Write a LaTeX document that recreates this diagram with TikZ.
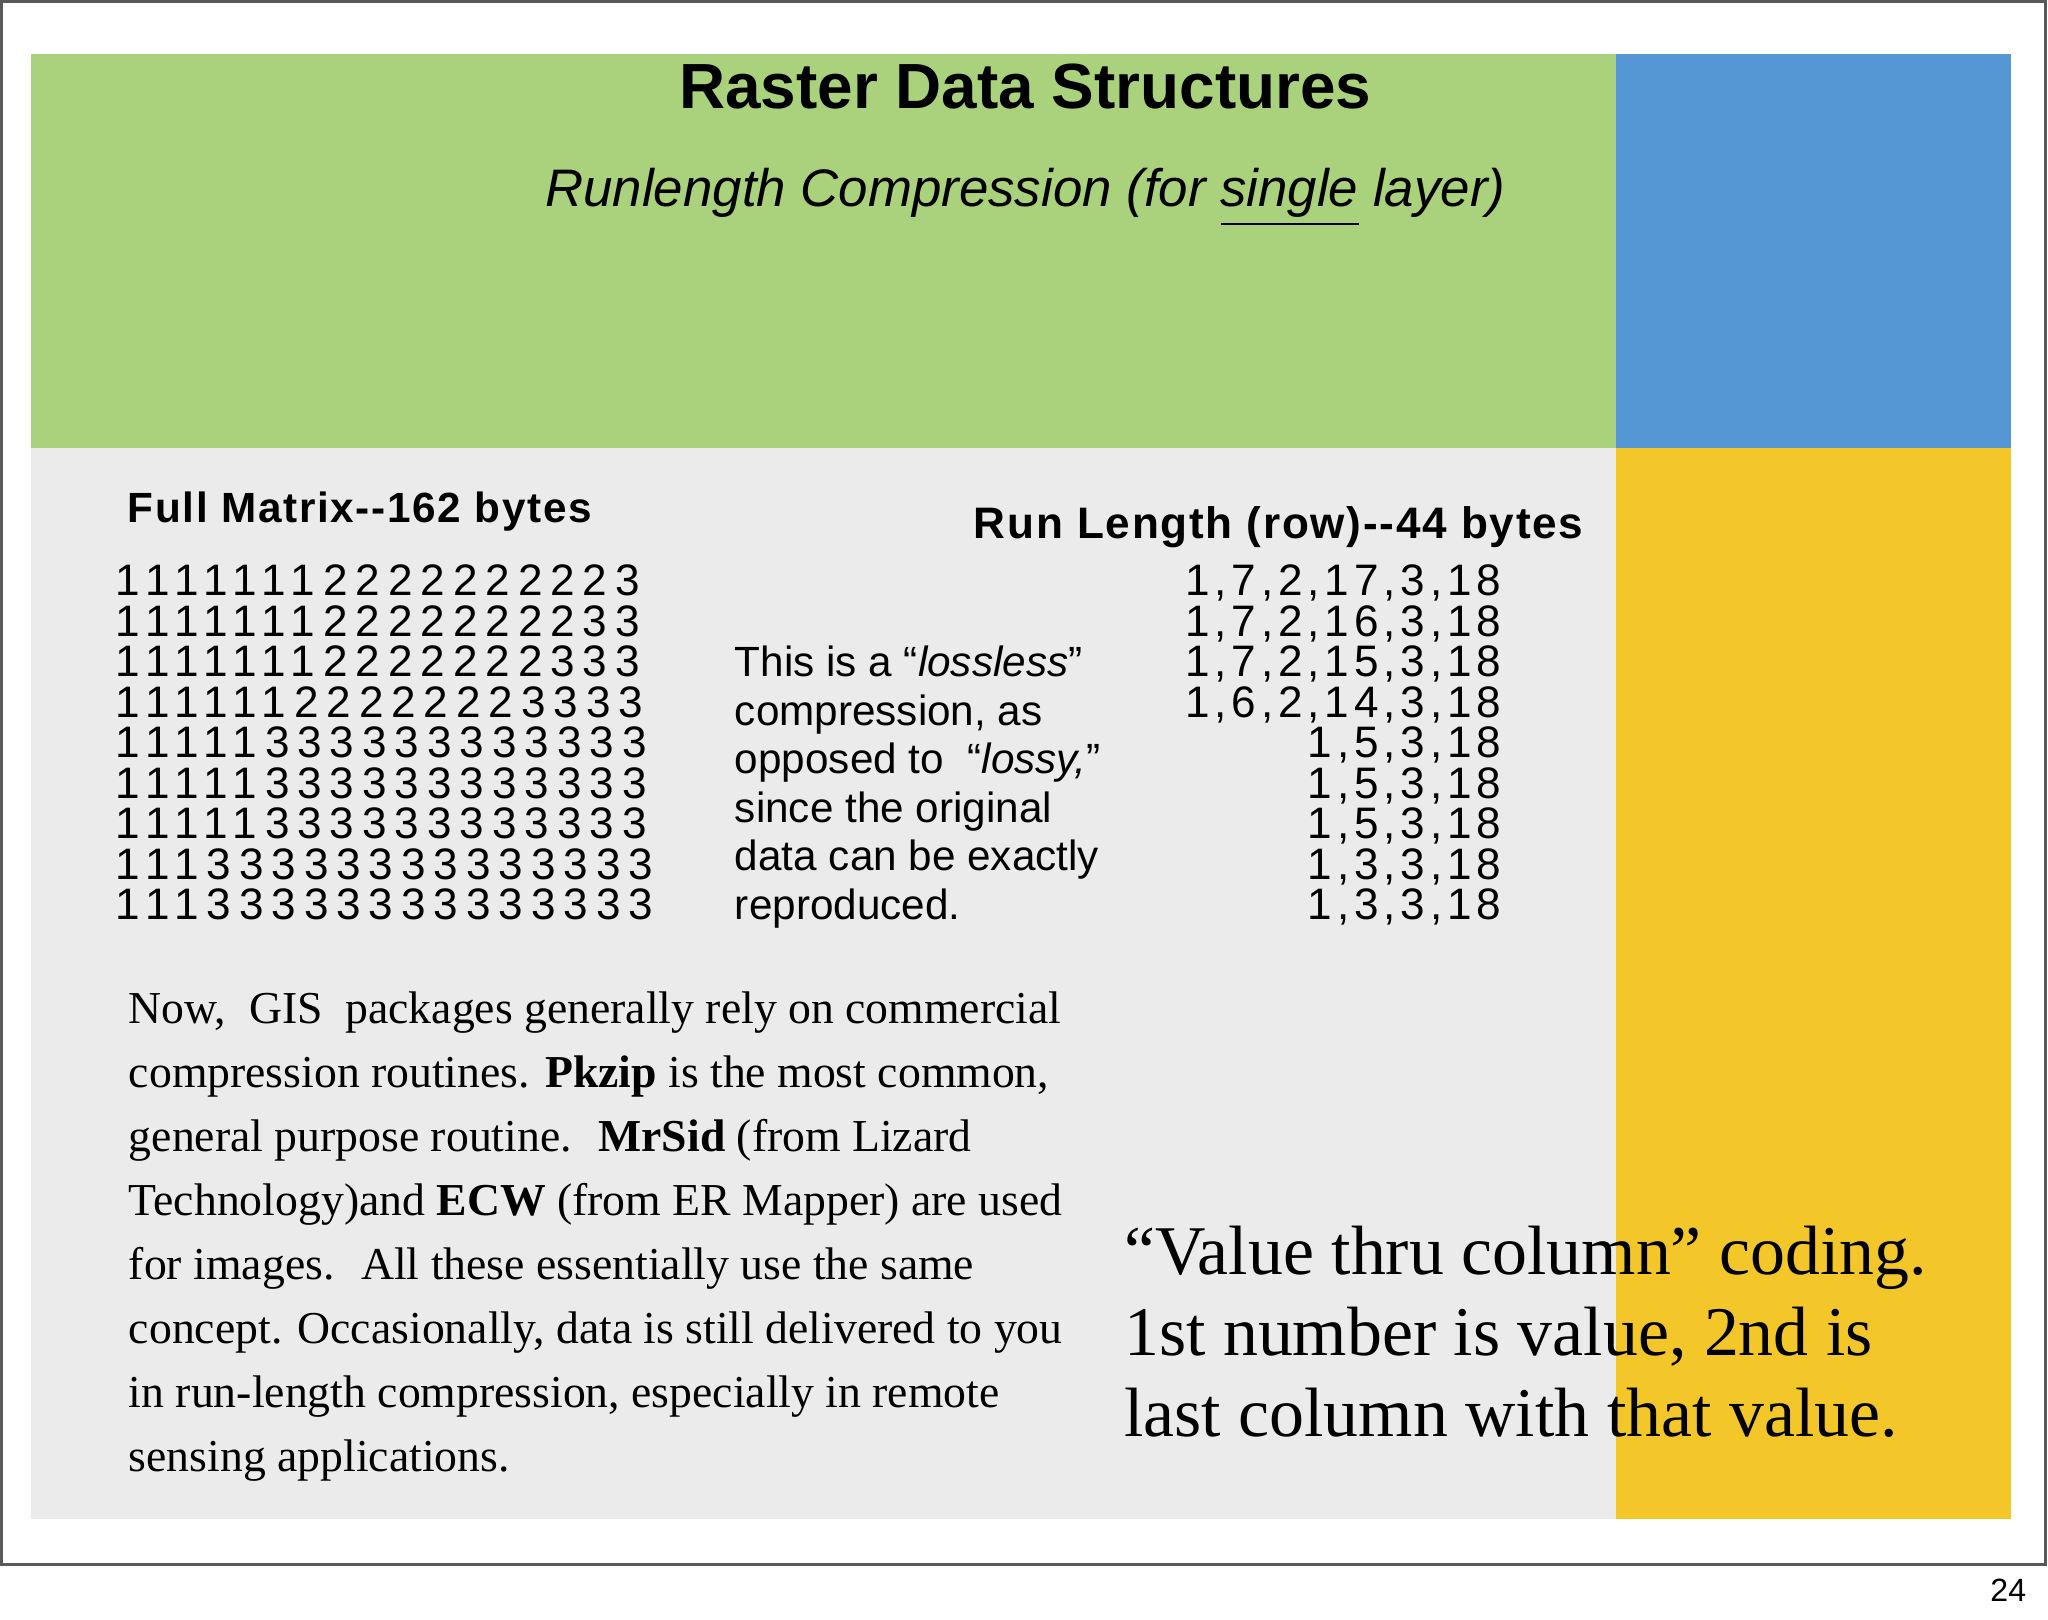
\documentclass[tikz,border=0pt]{standalone}
\usepackage{fontspec}
\setmainfont{Liberation Serif}
\newfontfamily\sans{Liberation Sans}
\newfontfamily\spc[LetterSpace=18]{Liberation Sans}
\newfontfamily\rspc[LetterSpace=11]{Liberation Sans}
\newfontfamily\hspc[LetterSpace=4]{Liberation Sans}
\definecolor{grn}{HTML}{AAD27C}
\definecolor{blu}{HTML}{5597D4}
\definecolor{gry}{HTML}{EBEBEB}
\definecolor{yel}{HTML}{F3C72A}
\begin{document}
\begin{tikzpicture}[x=0.01cm,y=-0.01cm,
  lbl/.style={inner sep=0,anchor=base west},
  mat/.style={inner sep=0,anchor=base west,font=\spc\fontsize{9.6}{11}\selectfont},
  rl/.style={inner sep=0,anchor=base east,font=\rspc\fontsize{9.6}{11}\selectfont}]
\useasboundingbox (0,0) rectangle (1568,1240);
\fill[white] (0,0) rectangle (1568,1240);
\draw[gray!70!black,line width=0.6pt] (1,1) rectangle (1566,1198);
\fill[grn] (24,41) rectangle (1237,343);
\fill[blu] (1237,41) rectangle (1540,343);
\fill[gry] (24,343) rectangle (1237,1163);
\fill[yel] (1237,343) rectangle (1540,1163);
\node[inner sep=0,anchor=base] (title) at (785,83) {\sans\bfseries\fontsize{13.9}{16}\selectfont Raster Data Structures};
\node[inner sep=0,anchor=base] (sub) at (785,158) {\sans\itshape\fontsize{11.5}{14}\selectfont Runlength Compression (for \underline{single} layer)};
\node[lbl] (fm) at (97,400) {\hspc\bfseries\fontsize{9.2}{10}\selectfont Full Matrix-{}-162 bytes};
\node[lbl,anchor=base east] (rh) at (1213,412) {\hspc\bfseries\fontsize{9.6}{10}\selectfont Run Length (row)-{}-44 bytes};
\foreach \s [count=\i from 0] in {11111112222222223,11111112222222233,11111112222222333,11111122222223333,11111333333333333,11111333333333333,11111333333333333,11133333333333333,11133333333333333}
  \node[mat] (m\i) at (88,{456+31*\i}) {\s};
\foreach \s [count=\i from 0] in {{1,7,2,17,3,18},{1,7,2,16,3,18},{1,7,2,15,3,18},{1,6,2,14,3,18},{1,5,3,18},{1,5,3,18},{1,5,3,18},{1,3,3,18},{1,3,3,18}}
  \node[rl] (r\i) at (1150,{456+31*\i}) {\s};
\foreach \s [count=\i from 0] in {{This is a “\textit{lossless}”},{compression, as},{opposed to \ “\textit{lossy,}”},{since the original},{data can be exactly},{reproduced.}}
  \node[lbl,font=\sans\fontsize{9.2}{10}\selectfont] (t\i) at (562,{518+37.2*\i}) {\s};
\foreach \s [count=\i from 0] in {{Now, \ GIS \ packages generally rely on commercial},{compression routines. \textbf{Pkzip} is the most common,},{general purpose routine. \ \textbf{MrSid} (from Lizard},{Technology)and \textbf{ECW} (from ER Mapper) are used},{for images. \ All these essentially use the same},{concept. Occasionally, data is still delivered to you},{in run-length compression, especially in remote},{sensing applications.}}
  \node[lbl,font=\fontsize{9.95}{12}\selectfont] (p\i) at (98,{784+49*\i}) {\s};
\foreach \s [count=\i from 0] in {{“Value thru column” coding.},{1st number is value, 2nd is},{last column with that value.}}
  \node[lbl,font=\fontsize{15.2}{20}\selectfont] (b\i) at (860,{976+62*\i}) {\s};
\node[inner sep=0,anchor=base east,font=\sans\fontsize{7}{8}\selectfont] (pg) at (1552,1226) {24};
\end{tikzpicture}
\end{document}
